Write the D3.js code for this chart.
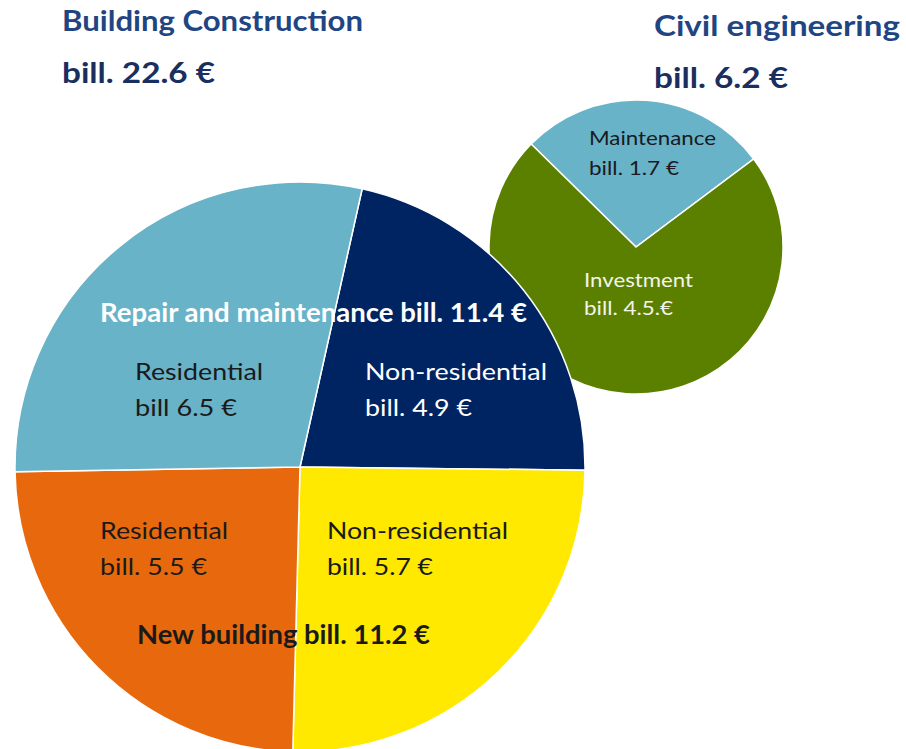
<!DOCTYPE html>
<html>
<head>
<meta charset="utf-8">
<script src="https://cdn.jsdelivr.net/npm/d3@7"></script>
<style>
  body { margin: 0; background: #fff; }
  svg text { font-family: Lato, "Open Sans", sans-serif; }
</style>
</head>
<body>
<div id="chart"></div>
<script>
// building construction, billion euro
const buildingCategories = ["Non-residential repair", "Non-residential new", "Residential new", "Residential repair"]
const buildingValues = [4.9, 5.7, 5.5, 6.5]
const buildingColors = ["#002462", "#ffe900", "#e8690d", "#68b3c8"]

// civil engineering, billion euro
const civilCategories = ["Maintenance", "Investment"]
const civilValues = [1.7, 4.5]
const civilColors = ["#68b3c8", "#5b8000"]

const titles = [["Building Construction", "bill. 22.6 €"], ["Civil engineering", "bill. 6.2 €"]]
const buildingLabels = [["Non-residential", "bill. 4.9 €"], ["Non-residential", "bill. 5.7 €"], ["Residential", "bill. 5.5 €"], ["Residential", "bill 6.5 €"]]
const civilLabels = [["Maintenance", "bill. 1.7 €"], ["Investment", "bill. 4.5.€"]]
const groupLabels = ["Repair and maintenance bill. 11.4 €", "New building bill. 11.2 €"]

const width = 906, height = 749
const deg = Math.PI / 180

var svg = d3.select("#chart")
    .append("svg")
        .attr("width", width)
        .attr("height", height)

function draw_pie(cx, cy, r, values, colors, start)
{
    const pie = d3.pie().sort(null).value(d => d)
        .startAngle(start * deg).endAngle(start * deg + 2 * Math.PI)
    const arc = d3.arc().innerRadius(0).outerRadius(r)
    const g = svg.append("g").attr("transform", `translate(${cx}, ${cy})`)
    g.selectAll("path")
        .data(pie(values))
        .enter().append("path")
        .attr("d", arc)
        .attr("fill", (d, i) => colors[i])
        .attr("stroke", "#fff")
        .attr("stroke-width", 1.5)
    return g
}

// label: text, x, y (baseline), size, weight, colour, fitted width
function label(g, t, x, y, size, weight, color, w)
{
    g.append("text")
        .attr("x", x)
        .attr("y", y)
        .attr("font-size", size)
        .attr("font-weight", weight)
        .attr("fill", color)
        .attr("textLength", w)
        .attr("lengthAdjust", "spacingAndGlyphs")
        .text(t)
}

// civil engineering pie sits behind the big one
const civil = draw_pie(636, 247, 147, civilValues, civilColors, -45.5)
const big = draw_pie(300, 467, 285, buildingValues, buildingColors, 12.6)

// titles
label(svg, titles[0][0], 62, 31, 29, "bold", "#1f4583", 301)
label(svg, titles[0][1], 62, 83, 29, "bold", "#1a2e60", 153)
label(svg, titles[1][0], 654, 36, 29, "bold", "#1f4583", 246)
label(svg, titles[1][1], 654, 88, 29, "bold", "#1a2e60", 134)

// civil engineering labels (relative to its centre)
label(civil, civilLabels[0][0], -47, -102, 20, "normal", "#1a1a22", 127)
label(civil, civilLabels[0][1], -47, -72, 20, "normal", "#1a1a22", 90)
label(civil, civilLabels[1][0], -52, 40, 20, "normal", "#f4f4ea", 109)
label(civil, civilLabels[1][1], -52, 68, 20, "normal", "#f4f4ea", 89)

// building construction labels (relative to its centre)
label(big, groupLabels[0], -200, -145, 26, "bold", "#fff", 427)
label(big, buildingLabels[3][0], -165, -87, 24, "normal", "#1a1a1a", 128)
label(big, buildingLabels[3][1], -165, -51, 24, "normal", "#1a1a1a", 102)
label(big, buildingLabels[0][0], 65, -87, 24, "normal", "#fff", 182)
label(big, buildingLabels[0][1], 65, -51, 24, "normal", "#fff", 107)
label(big, buildingLabels[2][0], -200, 72, 24, "normal", "#1a1a1a", 128)
label(big, buildingLabels[2][1], -200, 108, 24, "normal", "#1a1a1a", 107)
label(big, buildingLabels[1][0], 27, 72, 24, "normal", "#1a1a1a", 181)
label(big, buildingLabels[1][1], 27, 108, 24, "normal", "#1a1a1a", 106)
label(big, groupLabels[1], -163, 177, 26, "bold", "#1a1a1a", 293)
</script>
</body>
</html>
